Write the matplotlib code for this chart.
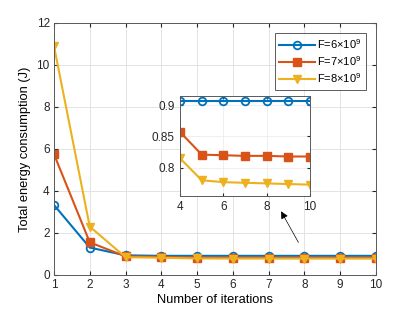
import numpy as np
import matplotlib.pyplot as plt

plt.rcParams['font.family'] = ['Liberation Sans', 'DejaVu Sans']
plt.rcParams['mathtext.fontset'] = 'custom'
plt.rcParams['mathtext.rm'] = 'Liberation Sans'

iters = np.arange(1, 11)
e_f6 = [3.33, 1.30, 0.93, 0.906, 0.906, 0.906, 0.906, 0.906, 0.906, 0.906]
e_f7 = [5.75, 1.55, 0.88, 0.857, 0.821, 0.820, 0.819, 0.819, 0.818, 0.818]
e_f8 = [10.9, 2.30, 0.84, 0.815, 0.780, 0.777, 0.776, 0.775, 0.774, 0.773]
labels = [r'F=6$\times$10$^9$', r'F=7$\times$10$^9$', r'F=8$\times$10$^9$']

colors = ['#0072BD', '#D95319', '#EDB120']
styles = [dict(marker='o', mfc='none', mew=1.3), dict(marker='s', mew=1.0), dict(marker='v', mew=1.0)]
series = [e_f6, e_f7, e_f8]

fig = plt.figure(figsize=(4.15, 3.12), dpi=100)
ax = fig.add_axes([0.130, 0.119, 0.776, 0.808])

for y, c, st, lab in zip(series, colors, styles, labels):
    ax.plot(iters, y, color=c, lw=1.5, ms=5.5, label=lab, **st)

ax.set_xlim(1, 10)
ax.set_ylim(0, 12)
ax.set_xticks(range(1, 11))
ax.set_yticks(range(0, 13, 2))
ax.set_xlabel('Number of iterations', fontsize=9.3, labelpad=2)
ax.set_ylabel('Total energy consumption (J)', fontsize=9.3, labelpad=4)
ax.grid(True, color='#e3e3e3', lw=0.7)
ax.tick_params(direction='in', top=True, right=True, labelsize=8.5, length=3, colors='0.15', pad=3)
for s in ax.spines.values():
    s.set_color('0.35')
    s.set_linewidth(0.7)

leg = ax.legend(loc='upper right', fontsize=8, fancybox=False, edgecolor='0.2',
                borderaxespad=0.9, handlelength=3.2, handletextpad=0.2,
                labelspacing=0.3, borderpad=0.4)
leg.get_frame().set_linewidth(0.7)

ax.annotate('', xy=(7.31, 3.14), xytext=(7.87, 1.43),
            arrowprops=dict(arrowstyle='-|>', color='black', lw=0.5, mutation_scale=11))

ins = fig.add_axes([0.434, 0.372, 0.313, 0.321])
for y, c, st in zip(series, colors, styles):
    ins.plot(iters[3:], y[3:], color=c, lw=1.5, ms=5.5, **st)
ins.set_xlim(4, 10)
ins.set_ylim(0.755, 0.915)
ins.set_xticks([4, 6, 8, 10])
ins.set_yticks([0.8, 0.85, 0.9])
ins.set_yticklabels(['0.8', '0.85', '0.9'])
ins.grid(True, color='#ececec', lw=0.6)
ins.tick_params(direction='in', top=True, right=True, labelsize=8.5, length=2.5, colors='0.15', pad=4)
for s in ins.spines.values():
    s.set_color('0.35')
    s.set_linewidth(0.7)

fig.savefig('out.png', dpi=100)
